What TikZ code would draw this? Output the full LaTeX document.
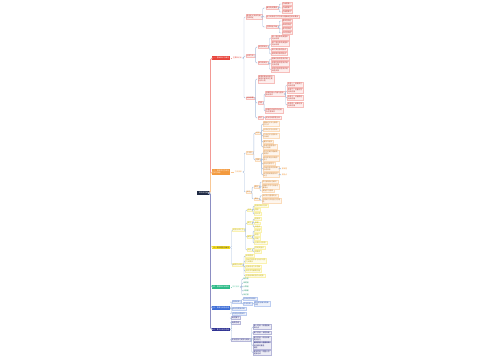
\documentclass[tikz,border=0pt]{standalone}
\usepackage{fontspec}
\setmainfont{Noto Sans CJK SC}
\usetikzlibrary{calc}
\definecolor{rootc}{HTML}{1F2A44}
\definecolor{redc}{HTML}{E8453C}
\definecolor{orangec}{HTML}{F39A3E}
\definecolor{yellowc}{HTML}{F2DA1E}
\definecolor{greenc}{HTML}{2DBB88}
\definecolor{bluec}{HTML}{3F6FD8}
\definecolor{indigoc}{HTML}{2E3192}
\definecolor{lineb}{HTML}{A9BFDD}
\tikzset{
  mm/.style={font=\fontsize{1}{1.25}\selectfont, inner xsep=0.6pt, inner ysep=0.35pt, anchor=west, align=left},
  rootbox/.style={mm, fill=rootc, text=white, inner xsep=1pt, inner ysep=0.6pt},
  topbox/.style={mm, fill=#1, text=white, inner ysep=0.5pt},
  tag/.style={mm, text=#1},
  leaf/.style={mm, fill=#1!9, draw=#1!35, line width=0.1pt, text=#1!80!black},
  sub/.style={draw=lineb, line width=0.25pt, rounded corners=0.6pt},
  trunk/.style={draw=#1!55, line width=0.45pt, rounded corners=1pt}
}
\begin{document}
\begin{tikzpicture}[x=0.02cm,y=-0.02cm]
  \useasboundingbox[fill=white] (0,0) rectangle (500,360);
  \node[rootbox] (root) at (197,193) {知识点总结};
  \coordinate (tk) at (210.5,193);

  % branch 1
  \node[topbox=redc] (R) at (212,58) {一、基础知识与概念};
  \node[tag=redc] (Rl) at (231.5,58) {主要知识点};
  \node[leaf=redc] (ra) at (245.5,17) {基本定义及其内涵\\主要特征};
  \node[leaf=redc] (rb) at (245.5,56) {分类方法};
  \node[leaf=redc] (rc) at (245.5,98) {相关原理};
  \node[leaf=redc] (ra1) at (265.5,8) {概念构成要素};
  \node[leaf=redc] (ra2) at (265.5,17) {定义的表述方式与常见理解误区辨析要点};
  \node[leaf=redc] (ra3) at (265.5,27) {主要特征归纳};
  \node[leaf=redc] (ra1-1) at (281.5,4) {内涵要素一};
  \node[leaf=redc] (ra1-2) at (281.5,8) {内涵要素二};
  \node[leaf=redc] (ra1-3) at (281.5,12) {内涵要素三};
  \node[leaf=redc] (ra3-1) at (281.5,21) {整体性特征};
  \node[leaf=redc] (ra3-2) at (281.5,25) {系统性特征};
  \node[leaf=redc] (ra3-3) at (281.5,29) {层次性特征};
  \node[leaf=redc] (ra3-4) at (281.5,33) {动态性特征};
  \node[leaf=redc] (rb1) at (257.5,47) {按性质划分};
  \node[leaf=redc] (rb2) at (257.5,63) {按功能划分};
  \node[leaf=redc] (rb1-1) at (271,38) {第一类对象及其基本\\特点说明};
  \node[leaf=redc] (rb1-2) at (271,44) {第二类对象及其基本\\特点说明};
  \node[leaf=redc] (rb1-3) at (271,50) {第三类对象的特点};
  \node[leaf=redc] (rb1-4) at (271,54) {第四类对象的特点};
  \node[leaf=redc] (rb2-1) at (271,59) {基础功能类型及作用};
  \node[leaf=redc] (rb2-2) at (271,64) {拓展功能类型及作用\\应用范围};
  \node[leaf=redc] (rb2-3) at (271,69.5) {综合功能类型及作用\\典型实例};
  \node[leaf=redc] (rc1) at (257.5,79) {原理的提出背景与\\发展历程及其主要\\代表人物};
  \node[leaf=redc] (rc2) at (257.5,103) {内容};
  \node[leaf=redc] (rc3) at (257.5,118) {评价};
  \node[leaf=redc] (rc2a) at (265,94) {原理的核心内容与基本\\假设条件};
  \node[leaf=redc] (rc2b) at (265,111) {原理在实践中的应用\\及注意事项};
  \node[leaf=redc] (rc3-1) at (265,118) {优点与局限性分析};
  \node[leaf=redc] (rc2a-1) at (287,85) {条件一：前提成立\\适用范围};
  \node[leaf=redc] (rc2a-2) at (287,91) {条件二：变量可控\\适用范围};
  \node[leaf=redc] (rc2a-3) at (287,98) {条件三：过程稳定\\适用范围};
  \node[leaf=redc] (rc2a-4) at (287,105) {条件四：结果可测\\适用范围};

  % branch 2
  \node[topbox=orangec] (O) at (212,172) {二、常用学习方法与\\技巧归纳};
  \node[tag=orangec] (Ol) at (233.5,172) {方法体系};
  \node[leaf=orangec] (o1) at (245.5,153) {方法类};
  \node[leaf=orangec] (o2) at (245.5,192) {技巧};
  \node[leaf=orangec] (o1a) at (255,133) {记忆};
  \node[leaf=orangec] (o1b) at (255,160) {理解};
  \node[leaf=orangec] (o1a-1) at (262.5,124) {理解记忆法与联想\\记忆法};
  \node[leaf=orangec] (o1a-2) at (262.5,130) {分类记忆与比较法};
  \node[leaf=orangec] (o1a-3) at (262.5,136) {口诀记忆与图表法\\的使用};
  \node[leaf=orangec] (o1a-4) at (262.5,142) {重复巩固法};
  \node[leaf=orangec] (o1a-5) at (262.5,147) {思维导图整理法\\知识网络};
  \node[leaf=orangec] (o1b-1) at (262.5,153) {抓住关键词理解题\\意要求};
  \node[leaf=orangec] (o1b-2) at (262.5,159) {结合实例分析概念\\含义};
  \node[leaf=orangec] (o1b-3) at (262.5,164) {前后对照学习};
  \node[leaf=orangec] (o1b-4) at (262.5,169) {归纳总结共同规律\\形成体系};
  \node[leaf=orangec] (o1b-5) at (262.5,175) {反思错误原因及时\\纠正};
  \node[tag=orangec] (o1b-4a) at (280.5,169) {需掌握};
  \node[tag=orangec] (o1b-5a) at (280.5,175) {易错点};
  \node[leaf=orangec] (o2a) at (253.5,187) {课前};
  \node[leaf=orangec] (o2b) at (253.5,199) {课后};
  \node[leaf=orangec] (o2a-1) at (261.5,182) {预习教材标注疑问};
  \node[leaf=orangec] (o2a-2) at (261.5,186.5) {明确本节学习目标与\\重难点};
  \node[leaf=orangec] (o2a-3) at (261.5,191) {准备学习用具};
  \node[leaf=orangec] (o2b-1) at (261.5,195.5) {及时复习整理笔记};
  \node[leaf=orangec] (o2b-2) at (261.5,200.5) {完成练习并检查订正错\\题};

  % branch 3
  \node[topbox=yellowc, text=black!75] (Y) at (212,247.5) {三、常见题型与解法};
  \node[leaf=yellowc] (y1) at (232,230) {题型分类汇总};
  \node[leaf=yellowc] (y2) at (232,265) {解题的步骤};
  \node[leaf=yellowc] (y1a) at (246.5,210) {选择};
  \node[leaf=yellowc] (y1b) at (246.5,223) {填空};
  \node[leaf=yellowc] (y1c) at (246.5,237) {解答};
  \node[leaf=yellowc] (y1d) at (246.5,250) {实验};
  \node[leaf=yellowc] (y1a-1) at (254,206) {直接判断法分析};
  \node[leaf=yellowc] (y1a-2) at (254,210) {排除};
  \node[leaf=yellowc] (y1a-3) at (254,214) {代入法};
  \node[leaf=yellowc] (y1b-1) at (254,219) {直接法};
  \node[leaf=yellowc] (y1b-2) at (254,223) {推理};
  \node[leaf=yellowc] (y1b-3) at (254,227) {特值法};
  \node[leaf=yellowc] (y1c-1) at (254,231) {分析法};
  \node[leaf=yellowc] (y1c-2) at (254,235) {综合};
  \node[leaf=yellowc] (y1c-3) at (254,239) {归纳};
  \node[leaf=yellowc] (y1c-4) at (254,243) {分类讨论思想};
  \node[leaf=yellowc] (y1d-1) at (254,248) {控制变量法};
  \node[leaf=yellowc] (y1d-2) at (254,252) {转换法};
  \node[leaf=yellowc] (y2-1) at (245,256) {审清题意};
  \node[leaf=yellowc] (y2-2) at (245,261) {找出已知条件与所求问题\\之间联系};
  \node[leaf=yellowc] (y2-3) at (245,267) {选择合适方法求解};
  \node[leaf=yellowc] (y2-4) at (245,271) {规范书写解题过程};
  \node[leaf=yellowc] (y2-5) at (245,276) {检查结果是否符合题意};

  % branch 4
  \node[topbox=greenc] (G) at (212,287) {四、易错知识点辨析};
  \node[tag=greenc!70] (Gl) at (231,287) {常见错误};
  \node[tag=greenc!80!black] (g-1) at (242,279) {概念混};
  \node[tag=greenc!80!black] (g-2) at (242,283) {审题错};
  \node[tag=greenc!80!black] (g-3) at (242,287) {计算错};
  \node[tag=greenc!80!black] (g-4) at (242,291) {步骤漏};
  \node[tag=greenc!80!black] (g-5) at (242,295) {单位错};

  % branch 5
  \node[topbox=bluec] (B) at (212,308) {五、拓展与综合应用};
  \node[leaf=bluec] (b1) at (231.5,302) {拓展延伸};
  \node[leaf=bluec] (b2) at (231.5,309) {综合性题目训练};
  \node[leaf=bluec] (b3) at (231.5,313.5) {开放性问题探究};
  \node[leaf=bluec] (b1a) at (242.5,299) {与其他学科联系};
  \node[leaf=bluec] (b1b) at (242.5,304) {生活应用};
  \node[leaf=bluec] (b1b-1) at (253.5,304) {结合实际解决简单\\问题};

  % branch 6
  \node[topbox=indigoc] (I) at (212,329.5) {六、复习计划与总结};
  \node[leaf=indigoc] (i1) at (231,318) {每日复习};
  \node[leaf=indigoc] (i2) at (231,322.5) {每周总结};
  \node[leaf=indigoc] (i3) at (231,340) {阶段性复习安排与建议};
  \node[leaf=indigoc] (i3-1) at (252.7,327) {第一阶段：梳理基础\\知识点};
  \node[leaf=indigoc] (i3-2) at (252.7,332.5) {第二阶段：专题突破};
  \node[leaf=indigoc] (i3-3) at (252.7,338.5) {第三阶段：综合训练\\提升能力};
  \node[leaf=indigoc] (i3-4) at (252.7,345.5) {第四阶段：查漏补缺\\回归教材重温\\错题};
  \node[leaf=indigoc] (i3-5) at (252.7,352.5) {第五阶段：调整心态\\迎接考试};

  % trunk
  \draw[trunk=redc] (root.east) -- (tk) |- (R.west);
  \draw[trunk=orangec] (root.east) -- (tk) |- (O.west);
  \draw[trunk=yellowc] (root.east) -- (tk) |- (Y.west);
  \draw[trunk=greenc] (root.east) -- (tk) |- (G.west);
  \draw[trunk=bluec] (root.east) -- (tk) |- (B.west);
  \draw[trunk=indigoc] (root.east) -- (tk) |- (I.west);
  \draw[trunk=redc] (R.east) -- (Rl.west);
  \draw[trunk=orangec] (O.east) -- (Ol.west);
  \draw[trunk=greenc] (G.east) -- (Gl.west);

  % connectors
  \foreach \p/\c in {Rl/ra, Rl/rb, Rl/rc, ra/ra1, ra/ra2, ra/ra3,
      ra1/ra1-1, ra1/ra1-2, ra1/ra1-3, ra3/ra3-1, ra3/ra3-2, ra3/ra3-3, ra3/ra3-4,
      rb/rb1, rb/rb2, rb1/rb1-1, rb1/rb1-2, rb1/rb1-3, rb1/rb1-4,
      rb2/rb2-1, rb2/rb2-2, rb2/rb2-3, rc/rc1, rc/rc2, rc/rc3,
      rc2/rc2a, rc2/rc2b, rc3/rc3-1, rc2a/rc2a-1, rc2a/rc2a-2, rc2a/rc2a-3, rc2a/rc2a-4,
      Ol/o1, Ol/o2, o1/o1a, o1/o1b,
      o1a/o1a-1, o1a/o1a-2, o1a/o1a-3, o1a/o1a-4, o1a/o1a-5,
      o1b/o1b-1, o1b/o1b-2, o1b/o1b-3, o1b/o1b-4, o1b/o1b-5,
      o1b-4/o1b-4a, o1b-5/o1b-5a, o2/o2a, o2/o2b,
      o2a/o2a-1, o2a/o2a-2, o2a/o2a-3, o2b/o2b-1, o2b/o2b-2,
      Y/y1, Y/y2, y1/y1a, y1/y1b, y1/y1c, y1/y1d,
      y1a/y1a-1, y1a/y1a-2, y1a/y1a-3, y1b/y1b-1, y1b/y1b-2, y1b/y1b-3,
      y1c/y1c-1, y1c/y1c-2, y1c/y1c-3, y1c/y1c-4, y1d/y1d-1, y1d/y1d-2,
      y2/y2-1, y2/y2-2, y2/y2-3, y2/y2-4, y2/y2-5,
      Gl/g-1, Gl/g-2, Gl/g-3, Gl/g-4, Gl/g-5,
      B/b1, B/b2, B/b3, b1/b1a, b1/b1b, b1b/b1b-1,
      I/i1, I/i2, I/i3, i3/i3-1, i3/i3-2, i3/i3-3, i3/i3-4, i3/i3-5}
    \draw[sub] (\p.east) -- ++(0.9,0) |- (\c.west);
\end{tikzpicture}
\end{document}
